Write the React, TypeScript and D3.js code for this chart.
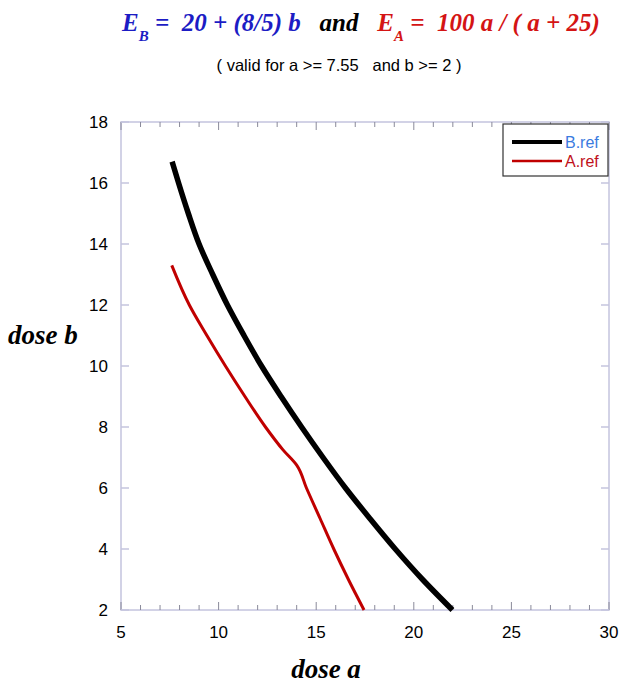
import React from "react";
import * as d3 from "d3";

const xTicks = [5, 10, 15, 20, 25, 30];
const yTicks = [2, 4, 6, 8, 10, 12, 14, 16, 18];

const bRefA = [7.62, 7.95, 8.45, 9.0, 9.7, 10.45, 11.3, 12.2, 13.2, 14.25, 15.35, 16.5, 17.75, 19.05, 20.45, 21.98];
const bRefB = [16.7, 16.0, 15.0, 14.0, 13.0, 12.0, 11.0, 10.0, 9.0, 8.0, 7.0, 6.0, 5.0, 4.0, 3.0, 2.0];

const aRefA = [7.6, 8.5, 9.4, 10.35, 11.35, 12.4, 13.3, 14.0, 14.5, 15.2, 15.9, 16.65, 17.45];
const aRefB = [13.3, 12.0, 11.0, 10.0, 9.0, 8.0, 7.25, 6.75, 6.0, 5.0, 4.0, 3.0, 2.0];

const seriesNames = ["B.ref", "A.ref"];

export default function App() {
  const W = 629, H = 691;
  const L = 121, R = 609, T = 122, B = 610;
  const x = d3.scaleLinear().domain([5, 30]).range([L, R]);
  const y = d3.scaleLinear().domain([2, 18]).range([B, T]);
  const lineB = d3.line<[number, number]>().x(d => x(d[0])).y(d => y(d[1])).curve(d3.curveMonotoneY);
  const lineA = d3.line<[number, number]>().x(d => x(d[0])).y(d => y(d[1])).curve(d3.curveMonotoneY);
  const bPts: [number, number][] = bRefA.map((a, i) => [a, bRefB[i]]);
  const aPts: [number, number][] = aRefA.map((a, i) => [a, aRefB[i]]);
  const minor = d3.range(5, 31, 1);
  const axisCol = "#c4c4de";
  const serif = "'Liberation Serif', 'Times New Roman', serif";
  const sans = "'Liberation Sans', Arial, sans-serif";
  return (
    <svg width={W} height={H} style={{ position: "absolute", left: 0, top: 0, background: "#fff" }}>
      <rect width={W} height={H} fill="#fff" />
      {/* title */}
      <text x={122} y={31} fontFamily={serif} fontStyle="italic" fontWeight="bold" fontSize={25} style={{ whiteSpace: "pre" }}>
        <tspan fill="#1c1cc4">E</tspan>
        <tspan fill="#1c1cc4" fontSize={15} dy={10}>B</tspan>
        <tspan fill="#1c1cc4" dy={-10}>{" =  20 + (8/5) b"}</tspan>
        <tspan fill="#000">{"   and   "}</tspan>
        <tspan fill="#d41414">E</tspan>
        <tspan fill="#d41414" fontSize={15} dy={10}>A</tspan>
        <tspan fill="#d41414" dy={-10}>{" =  100 a / ( a + 25)"}</tspan>
      </text>
      <text x={339} y={71} fontFamily={sans} fontSize={16.5} textAnchor="middle" fill="#000" style={{ whiteSpace: "pre" }}>
        {"( valid for a >= 7.55   and b >= 2 )"}
      </text>
      {/* frame */}
      <rect x={L} y={T} width={R - L} height={B - T} fill="none" stroke={axisCol} strokeWidth={1.5} />
      {/* x ticks */}
      {minor.map(v => {
        const len = v % 5 === 0 ? 8 : 5;
        return (
          <g key={"xt" + v}>
            <line x1={x(v)} x2={x(v)} y1={B} y2={B - len} stroke="#8a8a9a" strokeWidth={1} />
            <line x1={x(v)} x2={x(v)} y1={T} y2={T + len} stroke="#8a8a9a" strokeWidth={1} />
          </g>
        );
      })}
      {xTicks.map(v => (
        <text key={"xl" + v} x={x(v)} y={638} fontFamily={sans} fontSize={17} textAnchor="middle" fill="#000">{v}</text>
      ))}
      {/* y ticks */}
      {yTicks.map(v => (
        <g key={"yt" + v}>
          <line x1={L} x2={L + 8} y1={y(v)} y2={y(v)} stroke={axisCol} strokeWidth={1.5} />
          <line x1={R} x2={R - 8} y1={y(v)} y2={y(v)} stroke={axisCol} strokeWidth={1.5} />
          <text x={108} y={y(v) + 6} fontFamily={sans} fontSize={17} textAnchor="end" fill="#000">{v}</text>
        </g>
      ))}
      {/* axis labels */}
      <text x={8} y={344} fontFamily={serif} fontStyle="italic" fontWeight="bold" fontSize={27} fill="#000">dose b</text>
      <text x={326} y={678} fontFamily={serif} fontStyle="italic" fontWeight="bold" fontSize={27} textAnchor="middle" fill="#000">dose a</text>
      {/* curves */}
      <path d={lineA(aPts) || ""} fill="none" stroke="#c00000" strokeWidth={3} strokeLinejoin="round" />
      <path d={lineB(bPts) || ""} fill="none" stroke="#000" strokeWidth={5.5} />
      {/* legend */}
      <rect x={503} y={124} width={105} height={52} fill="#fff" stroke="#333" strokeWidth={1.2} />
      <line x1={512} x2={562} y1={142} y2={142} stroke="#000" strokeWidth={4} />
      <line x1={512} x2={562} y1={161} y2={161} stroke="#c00000" strokeWidth={2.5} />
      <text x={565} y={148} fontFamily={sans} fontSize={16} fill="#3a7be0">{seriesNames[0]}</text>
      <text x={565} y={167} fontFamily={sans} fontSize={16} fill="#c0101a">{seriesNames[1]}</text>
    </svg>
  );
}
